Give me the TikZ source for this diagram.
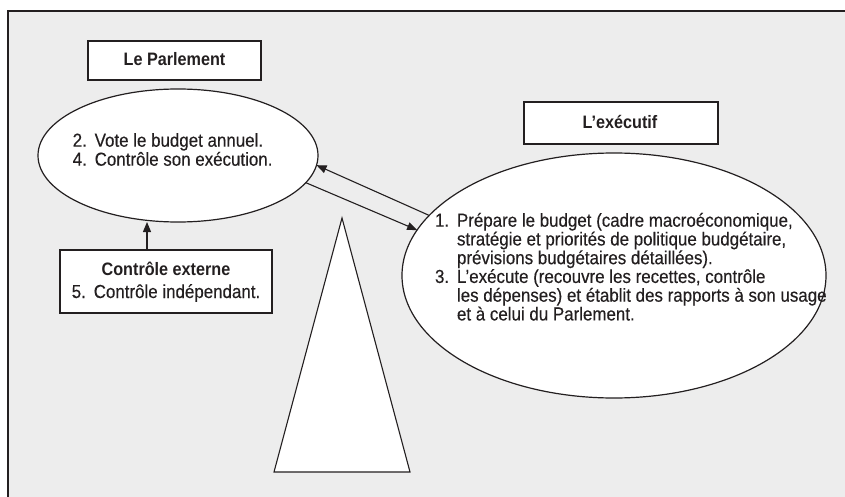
\documentclass[tikz,border=0pt]{standalone}
\usepackage{fontspec}
\setmainfont{Liberation Sans}[FakeStretch=0.9,UprightFeatures={FakeBold=0.3}]
\usetikzlibrary{arrows.meta,shapes.geometric}

\definecolor{panel}{HTML}{EDEDED}
\definecolor{ink}{HTML}{231F20}

% numbered line and its continuation, with a hanging indent
\newcommand{\numline}[2]{\hbox{\makebox[22pt][l]{#1}#2}}
\newcommand{\contline}[1]{\hbox{\hspace*{22pt}#1}}

\begin{document}
\begin{tikzpicture}[x=1pt,y=-1pt,
  every node/.style={text=ink},
  txt/.style={inner sep=0pt,outer sep=0pt,font=\fontsize{18.8pt}{19pt}\selectfont},
  boldtxt/.style={txt,font=\fontsize{18pt}{19pt}\selectfont\bfseries},
  titlebox/.style={draw=ink,line width=1.2pt,fill=white,inner sep=0pt},
  bubble/.style={ellipse,draw=ink,line width=1.2pt,fill=white,inner sep=0pt,outer sep=0pt},
  link/.style={draw=ink,line width=1.1pt,-{Triangle[length=10pt,width=8pt]}},
]
\useasboundingbox (0,0) rectangle (845,497);

% grey panel with its top and left rules
\fill[panel] (8,11) rectangle (845,497);
\draw[ink,line width=1.6pt] (8,497) -- (8,11) -- (845,11);

% the balance: central pillar
\filldraw[fill=white,draw=ink,line width=1.1pt]
  (342,218) -- (410,472) -- (274,472) -- cycle;

% Parliament
\node[titlebox,minimum width=173pt,minimum height=39pt] (parbox) at (174.5,60.5) {};
\node[boldtxt,anchor=base] (partitle) at (174.5,66) {Le Parlement};
\node[bubble,minimum width=280pt,minimum height=133pt] (par) at (178,155.5) {};
\node[txt,anchor=base west] (partext) at (72.7,146.7)
  {\vtop{\baselineskip=19pt
    \numline{2.}{Vote le budget annuel.}
    \numline{4.}{Contrôle son exécution.}}};

% external audit
\node[titlebox,minimum width=212pt,minimum height=63pt] (audit) at (166,281.5) {};
\node[boldtxt,anchor=base] (audittitle) at (166,275) {Contrôle externe};
\node[txt,anchor=base] (audittext) at (166,298) {\makebox[22pt][l]{5.}Contrôle indépendant.};

% Executive
\node[titlebox,minimum width=194pt,minimum height=42pt] (exebox) at (621,123) {};
\node[boldtxt,anchor=base] (exetitle) at (620,129) {L’exécutif};
\node[bubble,minimum width=424pt,minimum height=245pt] (exe) at (614,275.5) {};
\node[txt,anchor=base west] (exetext) at (435,226.7)
  {\vtop{\baselineskip=16.65pt
    \numline{1.}{Prépare le budget (cadre macroéconomique,}
    \contline{stratégie et priorités de politique budgétaire,}
    \contline{prévisions budgétaires détaillées).}
    \numline{3.}{L’exécute (recouvre les recettes, contrôle}
    \contline{les dépenses) et établit des rapports à son usage}
    \contline{et à celui du Parlement.}}};

% connectors
\draw[link] (audit.north -| 147,0) -- (par.south -| 147,0);
\draw[link] (par.-12.3) -- (exe.167.5);
\draw[link] (exe.162.6) -- (par.-4.8);
\end{tikzpicture}
\end{document}
